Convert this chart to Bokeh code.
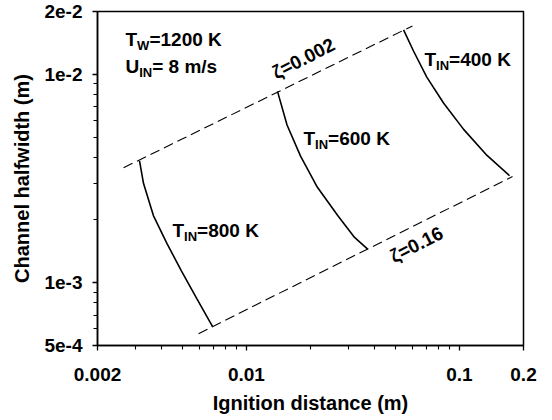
import math
from bokeh.plotting import figure
from bokeh.models import Label, FixedTicker, CustomJSTickFormatter
from bokeh.embed import file_html
from bokeh.resources import INLINE

# ---------------- data ----------------
x_lo, x_hi = 0.002, 0.2
y_lo, y_hi = 5e-4, 2e-2

x_ticks = [0.002, 0.01, 0.1, 0.2]
x_tick_labels = ["0.002", "0.01", "0.1", "0.2"]
x_minor = [0.003, 0.004, 0.005, 0.006, 0.007, 0.008, 0.009,
           0.02, 0.03, 0.04, 0.05, 0.06, 0.07, 0.08, 0.09]
y_ticks = [5e-4, 1e-3, 1e-2, 2e-2]
y_tick_labels = ["5e-4", "1e-3", "1e-2", "2e-2"]
y_minor = [6e-4, 7e-4, 8e-4, 9e-4,
           2e-3, 3e-3, 4e-3, 5e-3, 6e-3, 7e-3, 8e-3, 9e-3]

# T_IN = 800 K
t800_x = [0.00315, 0.00329, 0.00366, 0.00424, 0.00496, 0.00586, 0.00694]
t800_y = [0.00384, 0.00299, 0.00210, 0.00154, 0.001138, 0.000837, 0.000616]
# T_IN = 600 K
t600_x = [0.0140, 0.01552, 0.01796, 0.02155, 0.02684, 0.0322, 0.0371]
t600_y = [0.00828, 0.00571, 0.00405, 0.00287, 0.00210, 0.00165, 0.00145]
# T_IN = 400 K
t400_x = [0.0547, 0.0609, 0.0703, 0.0844, 0.1047, 0.1348, 0.172]
t400_y = [0.01634, 0.01293, 0.00969, 0.00726, 0.00544, 0.00408, 0.00326]

# zeta = 0.002 (upper) and zeta = 0.16 (lower) dashed lines
zeta_hi_x = [0.00265, 0.0602]
zeta_hi_y = [0.00356, 0.01706]
zeta_lo_x = [0.00596, 0.1776]
zeta_lo_y = [0.00057, 0.00323]

# ---------------- layout ----------------
W, H = 552, 420
FL, FR, FT, FB = 97, 523, 11, 345
FONT = "Liberation Sans"

p = figure(width=W, height=H, x_axis_type="log", y_axis_type="log",
           x_range=(x_lo, x_hi), y_range=(y_lo, y_hi),
           output_backend="svg", toolbar_location=None,
           min_border_left=FL, min_border_right=W - FR,
           min_border_top=FT, min_border_bottom=H - FB)
p.background_fill_color = "white"
p.border_fill_color = "white"
p.outline_line_color = "black"
p.outline_line_width = 1.5
p.xgrid.visible = False
p.ygrid.visible = False


def px2x(px):
    a, b = math.log10(x_lo), math.log10(x_hi)
    return 10 ** (a + (px - FL) / (FR - FL) * (b - a))


def py2y(py):
    a, b = math.log10(y_lo), math.log10(y_hi)
    return 10 ** (a + (FB - py) / (FB - FT) * (b - a))


fmt_code = """
let best = 0; let bd = Infinity;
for (let i = 0; i < tv.length; i++) {
  const d = Math.abs(Math.log(tick / tv[i]));
  if (d < bd) { bd = d; best = i; }
}
return tl[best];
"""
p.xaxis.ticker = FixedTicker(ticks=x_ticks, minor_ticks=x_minor)
p.yaxis.ticker = FixedTicker(ticks=y_ticks, minor_ticks=y_minor)
p.xaxis.formatter = CustomJSTickFormatter(args=dict(tv=x_ticks, tl=x_tick_labels), code=fmt_code)
p.yaxis.formatter = CustomJSTickFormatter(args=dict(tv=y_ticks, tl=y_tick_labels), code=fmt_code)

for ax in (p.xaxis, p.yaxis):
    ax.axis_line_color = "black"
    ax.axis_line_width = 1.5
    ax.major_tick_line_color = "black"
    ax.minor_tick_line_color = "black"
    ax.major_tick_line_width = 1.3
    ax.minor_tick_line_width = 1.1
    ax.major_tick_in = 0
    ax.major_tick_out = 5
    ax.minor_tick_in = 0
    ax.minor_tick_out = 4
    ax.major_label_text_font = FONT
    ax.major_label_text_font_style = "bold"
    ax.major_label_text_font_size = "19px"
    ax.major_label_text_color = "black"
    ax.axis_label_text_font = FONT
    ax.axis_label_text_font_style = "bold"
    ax.axis_label_text_font_size = "20px"
    ax.axis_label_text_color = "black"

p.xaxis.axis_label = "Ignition distance (m)"
p.yaxis.axis_label = "Channel halfwidth (m)"
p.xaxis.major_label_standoff = 17
p.yaxis.major_label_standoff = 10
p.xaxis.axis_label_standoff = 8
p.yaxis.axis_label_standoff = 8

# ---------------- marks ----------------
for xs, ys in ((t800_x, t800_y), (t600_x, t600_y), (t400_x, t400_y)):
    p.line(xs, ys, line_color="black", line_width=1.6)
for xs, ys in ((zeta_hi_x, zeta_hi_y), (zeta_lo_x, zeta_lo_y)):
    p.line(xs, ys, line_color="black", line_width=1.1, line_dash="10 5")


# ---------------- annotations ----------------
def txt(px, py, s, size=19, align="left", baseline="alphabetic", angle=0.0):
    p.add_layout(Label(x=px2x(px), y=py2y(py), text=s, text_font=FONT,
                       text_font_style="bold", text_font_size=f"{size}px",
                       text_color="black", text_align=align,
                       text_baseline=baseline, angle=angle))


def sub_label(px, py, main, sub, rest, main_w):
    txt(px, py, main)
    txt(px + main_w, py + 6, sub, size=13)
    sub_w = {"W": 12.3, "IN": 13.0}[sub]
    txt(px + main_w + sub_w, py, rest)


sub_label(125, 39, "T", "W", "=1200 K", 11.6)
sub_label(125, 66, "U", "IN", "= 8 m/s", 13.7)
sub_label(424, 59, "T", "IN", "=400 K", 11.6)
sub_label(303, 138, "T", "IN", "=600 K", 11.6)
sub_label(172, 230, "T", "IN", "=800 K", 11.6)

ang = math.radians(27)
txt(303, 58, "ζ=0.002", size=19, align="center", baseline="middle", angle=ang)
txt(416, 244, "ζ=0.16", size=19, align="center", baseline="middle", angle=ang)

open("out.html", "w").write(file_html(p, INLINE))
